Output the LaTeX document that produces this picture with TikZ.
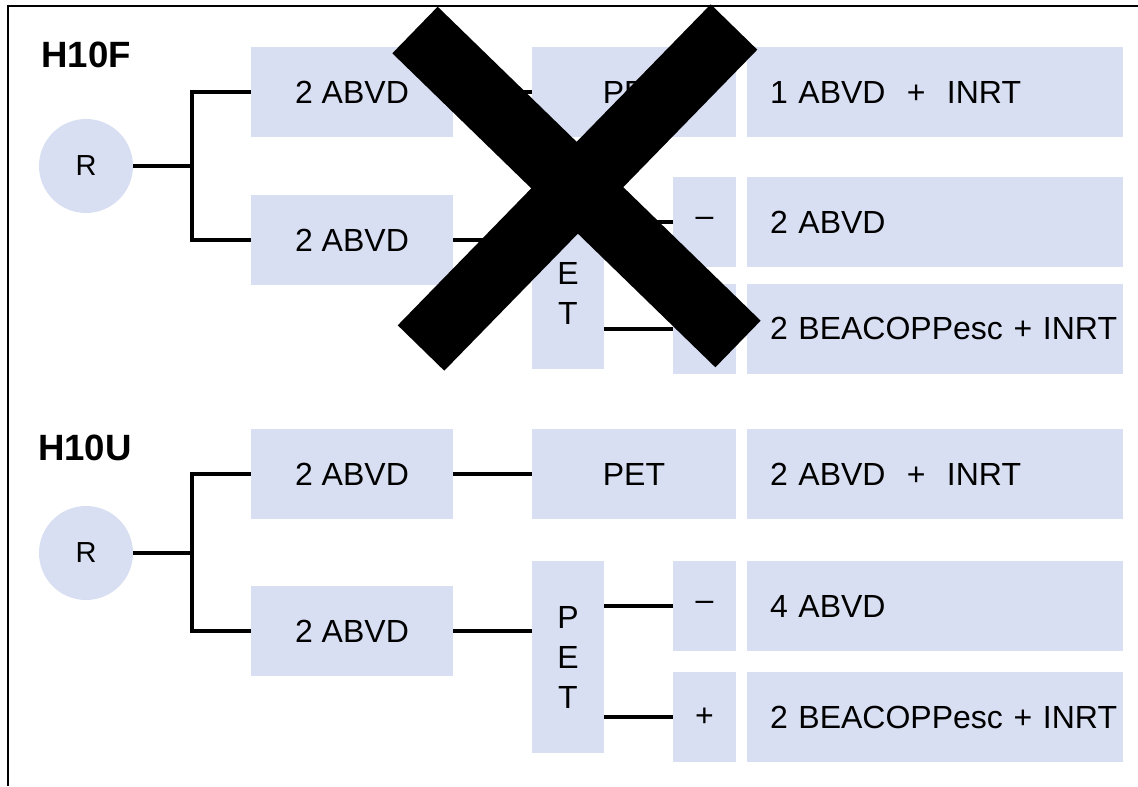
\documentclass[tikz,border=0pt]{standalone}
\usepackage{fontspec}
\setmainfont{Liberation Sans}
\usepackage{xcolor}
\usetikzlibrary{positioning,calc}
\definecolor{boxblue}{RGB}{217,223,242}

\begin{document}
\begin{tikzpicture}[x=0.5pt,y=-0.5pt,
    font=\fontsize{16}{20}\selectfont,
    box/.style={fill=boxblue,inner sep=0pt,minimum height=45pt},
    arm/.style={box,minimum width=101pt},
    pet/.style={box,minimum width=102pt},
    petv/.style={box,minimum width=36pt,minimum height=96pt,align=center},
    sign/.style={box,minimum width=31.5pt},
    regimen/.style={box,inner xsep=11.5pt,text width=165pt,align=left},
    rand/.style={circle,fill=boxblue,minimum size=47pt,inner sep=0pt,font=\fontsize{14.5}{18}\selectfont},
    trial/.style={font=\fontsize{18.3}{22}\selectfont\bfseries},
    link/.style={line width=2pt}]
      \useasboundingbox (0,0) rectangle (1138,786);
      \draw[line width=1pt] (1138,6) -- (8,6) -- (8,786);

      % H10F
      \node[trial] (h1) at (86,55) {H10F};
      \node[rand] (r1) at (86,166) {R};
      \node[arm] (a1) at (352,92) {2 ABVD};
      \node[arm] (a2) at (352,240) {2 ABVD};
      \node[pet] (p1) at (634,92) {PET};
      \node[petv] (pv1) at (568,273) {P\\E\\T};
      \node[sign] (m1) at (704.5,222) {\textendash};
      \node[sign] (n1) at (704.5,328.5) {+};
      \node[regimen] (t1) at (935,92) {\mbox{1 ABVD\ \ +\ \ INRT}};
      \node[regimen] (t2) at (935,222) {\mbox{2 ABVD}};
      \node[regimen] (t3) at (935,328.5) {\mbox{2 BEACOPPesc + INRT}};

      \coordinate (s1) at (192,166);
      \draw[link] (r1.east) -- (s1);
      \draw[link] (a1.west) -| (s1) |- (a2.west);
      \draw[link] (a1) -- (p1);
      \draw[link] (a2.east) -- (a2.east -| pv1.west);
      \draw[link] (m1.west -| pv1.east) -- (m1.west);
      \draw[link] (n1.west -| pv1.east) -- (n1.west);

      % H10U
      \node[trial] (h2) at (85,448) {H10U};
      \node[rand] (r2) at (86,553) {R};
      \node[arm] (a3) at (352,474) {2 ABVD};
      \node[arm] (a4) at (352,631) {2 ABVD};
      \node[pet] (p2) at (634,474) {PET};
      \node[petv] (pv2) at (568,657) {P\\E\\T};
      \node[sign] (m2) at (704.5,606) {\textendash};
      \node[sign] (n2) at (704.5,717) {+};
      \node[regimen] (t4) at (935,474) {\mbox{2 ABVD\ \ +\ \ INRT}};
      \node[regimen] (t5) at (935,606) {\mbox{4 ABVD}};
      \node[regimen] (t6) at (935,717) {\mbox{2 BEACOPPesc + INRT}};

      \coordinate (s2) at (192,553);
      \draw[link] (r2.east) -- (s2);
      \draw[link] (a3.west) -| (s2) |- (a4.west);
      \draw[link] (a3) -- (p2);
      \draw[link] (a4.east) -- (a4.east -| pv2.west);
      \draw[link] (m2.west -| pv2.east) -- (m2.west);
      \draw[link] (n2.west -| pv2.east) -- (n2.west);

      % cross over H10F
      \draw[line width=32.5pt] (415,30) -- (738,344);
      \draw[line width=32.5pt] (734,27) -- (421,348);
    \end{tikzpicture}
\end{document}
